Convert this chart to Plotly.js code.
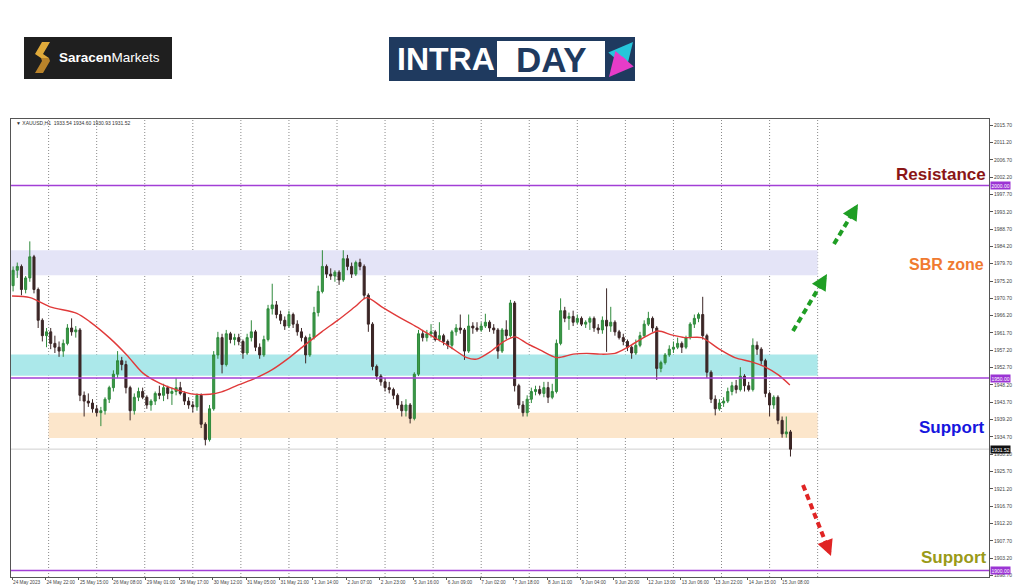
<!DOCTYPE html>
<html>
<head>
<meta charset="utf-8">
<script src="https://cdn.plot.ly/plotly-3.0.1.min.js"></script>
<style>
html,body{margin:0;padding:0;background:#fff;}
#chart{width:1024px;height:587px;}
</style>
</head>
<body>
<div id="chart"></div>
<script>
// ---------------- DATA ----------------
const symbolTitle = "\u25BC XAUUSD,H1  1933.54 1934.60 1930.93 1931.52";

// x-axis time labels (one every 16 hourly bars)
const timeLabels = ["24 May 2023","24 May 22:00","25 May 15:00","26 May 08:00","29 May 01:00","29 May 17:00",
  "30 May 12:00","31 May 05:00","31 May 21:00","1 Jun 14:00","2 Jun 07:00","2 Jun 23:00",
  "5 Jun 16:00","6 Jun 09:00","7 Jun 02:00","7 Jun 18:00","8 Jun 11:00","9 Jun 04:00",
  "9 Jun 20:00","12 Jun 13:00","13 Jun 06:00","13 Jun 22:00","14 Jun 15:00","15 Jun 08:00"];

// candles (2-hour resolution)
const open = [1974,1978,1979,1973,1976,1981.5,1973,1965,1961,1962,1959,1958,1957,1959,1963,1962,1962.5,1945.5,1944,1943.5,
1942,1941,1941.5,1944.5,1947.5,1951,1954.5,1953.5,1947.5,1941.5,1945,1946.5,1945,1943,1944,1946,1945.5,1947.5,1946,1946.5,
1947.5,1946,1944,1943,1942.5,1945.5,1938,1934,1942,1956,1960.5,1953.5,1961.5,1960,1960.5,1959.5,1956.5,1960.5,1962,1958,
1956,1960,1968,1969,1966.5,1965,1963.5,1966.5,1964,1962,1960.5,1956,1960.5,1967,1972.5,1979,1977,1976.5,1977.5,1975.5,
1981,1979,1977,1980,1979,1971.5,1964,1953,1950.5,1949,1947.5,1947,1945.5,1943,1941.5,1943,1939.5,1951,1961.5,1960.5,
1961.5,1962,1960,1961,1959.5,1958.5,1962,1963,1962.5,1957,1963.5,1963,1962.5,1963.5,1964.5,1963,1962.5,1957,1962.5,1961,
1969.5,1948,1943,1941,1944.5,1946.5,1947,1946,1947.5,1945,1946.5,1959,1967.5,1965.5,1966,1964.5,1965.5,1964,1964.5,1965.5,
1963,1962.5,1965,1963.5,1964.5,1962,1960.5,1959.5,1958,1956.5,1958.5,1961,1964,1965.5,1963,1952.5,1954,1956,1957.5,1958,
1959,1958,1960.5,1964,1965.5,1966.5,1961,1951.5,1944.5,1942,1943.5,1944,1946.5,1948,1947,1950.5,1948,1947,1958.5,1957.5,
1954.5,1946,1943,1945,1939,1935.5,1936];
const high = [1979,1980,1979.5,1976.5,1985.5,1982,1973.5,1965.5,1963,1963,1961,1959.5,1960,1964,1965.5,1963.5,1963,1946.5,1946,1944.5,
1943,1942.5,1945,1948,1952,1957,1955.5,1954.5,1948,1946,1947.5,1947.5,1945.5,1944.5,1946.5,1948,1948.5,1948,1947.5,1950,
1949,1946.5,1945,1944,1946,1946,1938.5,1943,1957,1962,1961.5,1962.5,1962,1961.5,1961.5,1960,1961.5,1965,1962.5,1959,
1961,1969,1974.5,1970,1967.5,1966,1967.5,1967,1965,1963,1961,1961.5,1968.5,1974,1983.2,1979.5,1978.5,1978,1978,1983.2,
1982,1980,1980.5,1981,1979.5,1972,1964.5,1953.5,1951,1950,1949,1947.5,1946,1944,1944.5,1943.5,1951.5,1962.5,1962.5,1962.5,
1964,1962.5,1964.5,1961.5,1960,1962.5,1964,1966.5,1963,1966.5,1964.5,1964.5,1964.5,1966.7,1965,1964,1963,1963,1965,1970.3,
1970,1948.5,1944,1945.5,1947.5,1948,1948,1949,1949,1948.5,1960,1970.7,1968.5,1967,1967.5,1966.5,1966,1965,1966,1966,
1964,1966,1973.3,1968.5,1965,1962.5,1961.5,1960,1958.5,1960,1962,1965,1967.2,1966,1963.5,1954.5,1956.5,1958.5,1959.5,1960.5,
1959.5,1961,1964.5,1966.5,1967,1971.1,1961.5,1952,1945.5,1944.5,1945,1947.5,1949,1949.5,1952.8,1951,1949,1960.3,1959.5,1958,
1955,1946.5,1945.5,1945.5,1940,1940,1936.5];
const low = [1972.5,1976,1971.5,1972,1975,1972,1963,1959.5,1958,1957.5,1956.5,1955.5,1955.5,1958.5,1961,1960.5,1944,1940,1942.5,1941,
1940,1937.5,1940.5,1943.5,1946.5,1950,1952,1946,1939,1940.5,1944,1944.5,1942,1941.5,1943,1944.5,1944,1944.5,1943,1945.5,
1945.5,1943,1942,1941,1941.5,1937,1932.5,1933.5,1941.5,1955,1951.2,1953,1959,1958.5,1958.5,1955,1956,1959.5,1957,1955,
1955.5,1959.5,1966.5,1965.5,1964,1962.5,1963,1963,1961,1959.5,1953.8,1955.5,1960,1966,1972,1976,1975.5,1975,1974.2,1975,
1978,1976,1976.5,1978,1970.5,1962,1952,1949.5,1948,1946.5,1946,1944.5,1942,1940,1940,1938.2,1939,1950.5,1959.5,1959.5,
1960.5,1959.5,1959.5,1958.5,1957.5,1957.5,1961,1961.5,1954.7,1956.5,1961.5,1962,1962,1963,1962,1961.5,1955,1956.5,1960,1960.5,
1946.5,1942,1940,1940,1943.5,1945.5,1945.5,1945,1943.5,1944.5,1946,1958.5,1964.5,1962.5,1963.5,1964,1963.5,1963,1962.5,1962,
1961.5,1961.5,1956.8,1962,1961,1960,1958.5,1957,1955,1956,1958,1960.5,1963.5,1962,1949.5,1951.5,1953.5,1955.5,1956.5,1957.5,
1956.5,1957.5,1960,1963,1964.5,1960,1950,1943.5,1940.3,1941.5,1942.5,1943.5,1945.5,1946,1946.5,1946.5,1946.5,1946.5,1956,1953.5,
1945,1940,1942,1938,1934.5,1934.5,1929.6];
const close = [1978,1979,1973,1976,1981.5,1973,1965,1961,1962,1959,1958,1957,1959,1963,1962,1962.5,1945.5,1944,1943.5,1942,
1941,1941.5,1944.5,1947.5,1951,1954.5,1953.5,1947.5,1941.5,1945,1946.5,1945,1943,1944,1946,1945.5,1947.5,1946,1946.5,1947.5,
1946,1944,1943,1942.5,1945.5,1938,1934,1942,1956,1960.5,1953.5,1961.5,1960,1960.5,1959.5,1956.5,1960.5,1962,1958,1956,
1960,1968,1969,1966.5,1965,1963.5,1966.5,1964,1962,1960.5,1956,1960.5,1967,1972.5,1979,1977,1976.5,1977.5,1975.5,1981,
1979,1977,1980,1979,1971.5,1964,1953,1950.5,1949,1947.5,1947,1945.5,1943,1941.5,1943,1939.5,1951,1961.5,1960.5,1961.5,
1962,1960,1961,1959.5,1958.5,1962,1963,1962.5,1957,1963.5,1963,1962.5,1963.5,1964.5,1963,1962.5,1957,1962.5,1961,1969.5,
1948,1943,1941,1944.5,1946.5,1947,1946,1947.5,1945,1946.5,1959,1967.5,1965.5,1966,1964.5,1965.5,1964,1964.5,1965.5,1963,
1962.5,1965,1963.5,1964.5,1962,1960.5,1959.5,1958,1956.5,1958.5,1961,1964,1965.5,1963,1952.5,1954,1956,1957.5,1958,1959,
1958,1960.5,1964,1965.5,1966.5,1961,1951.5,1944.5,1942,1943.5,1944,1946.5,1948,1947,1950.5,1948,1947,1958.5,1957.5,1954.5,
1946,1943,1945,1939,1935.5,1936,1931.52];

// moving average (hourly bar index, price)
const maBar = [0,8.6,18.2,31,37.3,46.9,54.9,62.8,70.8,78.8,86.6,94.7,100.3,108.3,116.3,124.3,132.2,140.2,148.2,156.1,164.1,169.7,
176.9,185.6,193.6,201.6,209.6,217.6,222.3,228.7,235.1,240.7,246.3,252.6,260.6,268.6,275,281.3,288.5,294.9,302.9,309.2,315.6,
322,330,337.9,345.9,353.9,360.3,366.7,372.2];
const maVal = [1971.3,1970.9,1968.5,1966.8,1964.6,1960.3,1956,1951.2,1948.6,1946.9,1945.8,1945.8,1946.4,1948.2,1949.9,1952.1,1955.1,
1958.6,1962,1965.1,1968.5,1970.9,1968.5,1965.7,1963.3,1960.7,1958.1,1955.3,1954.9,1956.8,1959.4,1960.7,1959,1957.3,1955.3,1956.2,
1956.4,1956.2,1956.4,1958.1,1960.7,1962.2,1961.2,1960.5,1960.5,1957.7,1955.3,1954.2,1952.9,1950.8,1948.2];

// horizontal levels and zones
const levelResistance = 2000.00;
const levelMid = 1950.00;
const levelSupport = 1900.00;
const lastPrice = 1931.52;
const zoneSBR = [1976.7, 1983.2];
const zoneCyan = [1950.6, 1956.1];
const zoneOrange = [1934.4, 1941.0];

// text labels
const labelResistance = "Resistance";
const labelSBR = "SBR zone";
const labelSupport1 = "Support";
const labelSupport2 = "Support";

// ---------------- GEOMETRY HELPERS ----------------
const W = 1024, H = 587;
const PL = 11, PR = 989, PT = 119, PB = 577;
const px = x => (x - PL) / (PR - PL);
const py = y => (PB - y) / (PB - PT);
const path = pts => pts.map((p, i) => (i ? 'L' : 'M') + px(p[0]).toFixed(5) + ',' + py(p[1]).toFixed(5)).join(' ') + ' Z';

// candle x positions: each 2h candle covers two hourly slots
const xs = open.map((_, k) => 2 * k + 0.5);
const tickvals = timeLabels.map((_, j) => 16 * j);
const xMin = -0.5, xMax = 467.5;
const dayStart = 17.5, daySpan = 23, nDays = 17;
const zoneRight = dayStart + daySpan * (nDays - 1);

// ---------------- TRACES ----------------
const candles = {
  type: 'candlestick', x: xs, open: open, high: high, low: low, close: close,
  increasing: {line: {color: '#2f8a3c', width: 1}, fillcolor: '#3c9a48'},
  decreasing: {line: {color: '#3b2626', width: 1}, fillcolor: '#3b2626'},
  whiskerwidth: 0, hoverinfo: 'skip', showlegend: false
};
const ma = {
  type: 'scatter', mode: 'lines', x: maBar, y: maVal,
  line: {color: '#e03a3a', width: 1.4, shape: 'spline', smoothing: 0.8},
  hoverinfo: 'skip', showlegend: false
};

// ---------------- SHAPES ----------------
const shapes = [];
shapes.push({type:'rect', xref:'x', yref:'y', x0:xMin, x1:zoneRight, y0:zoneSBR[0], y1:zoneSBR[1], fillcolor:'#e4e4f7', line:{width:0}, layer:'below'});
shapes.push({type:'rect', xref:'x', yref:'y', x0:xMin, x1:zoneRight, y0:zoneCyan[0], y1:zoneCyan[1], fillcolor:'#abe8ea', line:{width:0}, layer:'below'});
shapes.push({type:'rect', xref:'x', yref:'y', x0:dayStart, x1:zoneRight, y0:zoneOrange[0], y1:zoneOrange[1], fillcolor:'#fce6cb', line:{width:0}, layer:'below'});
for (let m = 0; m < nDays; m++) {
  const xv = dayStart + daySpan * m;
  shapes.push({type:'line', xref:'x', yref:'paper', x0:xv, x1:xv, y0:0, y1:1, line:{color:'#8a8a8a', width:1, dash:'1px,2px'}, layer:'below'});
}
shapes.push({type:'line', xref:'paper', yref:'y', x0:0, x1:1, y0:lastPrice, y1:lastPrice, line:{color:'#cfcfcf', width:1}, layer:'below'});
[levelResistance, levelMid, levelSupport].forEach(v => {
  shapes.push({type:'line', xref:'paper', yref:'y', x0:0, x1:1, y0:v, y1:v, line:{color:'#a23fd6', width:1.5}, layer:'above'});
});
const arrows = [
  {from:[793,331], to:[827,274], color:'#1f9e24'},
  {from:[834,244], to:[858,204], color:'#1f9e24'},
  {from:[803,485], to:[831,556], color:'#e02424'}
];
arrows.forEach(a => {
  const dx = a.to[0]-a.from[0], dy = a.to[1]-a.from[1], L = Math.hypot(dx,dy);
  const ex = a.to[0] - dx/L*8, ey = a.to[1] - dy/L*8;
  shapes.push({type:'line', xref:'paper', yref:'paper', x0:px(a.from[0]), y0:py(a.from[1]), x1:px(ex), y1:py(ey),
    line:{color:a.color, width:4, dash:'6px,4px'}});
});
// logos
shapes.push({type:'rect', xref:'paper', yref:'paper', x0:px(24), x1:px(172), y0:py(37), y1:py(79), fillcolor:'#1f1f1f', line:{width:0}});
shapes.push({type:'path', xref:'paper', yref:'paper', path:path([[42,42],[50,42],[43,54],[49,58],[41,58],[35,54]]), fillcolor:'#e0aa3a', line:{width:0}});
shapes.push({type:'path', xref:'paper', yref:'paper', path:path([[41,58],[49,58],[50,61],[43,73],[35,73],[42,61]]), fillcolor:'#b9832a', line:{width:0}});
shapes.push({type:'rect', xref:'paper', yref:'paper', x0:px(389), x1:px(635), y0:py(37), y1:py(81), fillcolor:'#1f3a5f', line:{width:0}});
shapes.push({type:'rect', xref:'paper', yref:'paper', x0:px(497), x1:px(605), y0:py(41), y1:py(77), fillcolor:'#ffffff', line:{width:0}});

// ---------------- ANNOTATIONS ----------------
const ann = [];
ann.push({xref:'paper', yref:'paper', x:px(14), y:py(123), xanchor:'left', yanchor:'middle', text:symbolTitle, showarrow:false,
  font:{family:'Liberation Sans', size:5, color:'#333'}});
function priceTag(v, bg) {
  ann.push({xref:'paper', yref:'y', x:1, y:v, xanchor:'left', yanchor:'middle', xshift:1, text:v.toFixed(2), showarrow:false,
    bgcolor:bg, borderpad:0.5, font:{family:'Liberation Sans', size:5, color:'#ffffff'}});
}
priceTag(levelResistance, '#9b35d4');
priceTag(levelMid, '#9b35d4');
priceTag(levelSupport, '#9b35d4');
priceTag(lastPrice, '#111111');
function bigLabel(t, xr, yc, color, size) {
  ann.push({xref:'paper', yref:'paper', x:px(xr), y:py(yc), xanchor:'right', yanchor:'middle', text:'<b>'+t+'</b>', showarrow:false,
    font:{family:'Liberation Sans', size:size, color:color}});
}
bigLabel(labelResistance, 988, 174, '#8a1616', 17);
bigLabel(labelSBR, 986, 264, '#f07a30', 16);
bigLabel(labelSupport1, 986, 427, '#1616de', 17);
bigLabel(labelSupport2, 988, 557, '#9a9a18', 17);
arrows.forEach(a => {
  const dx = a.to[0]-a.from[0], dy = a.to[1]-a.from[1], L = Math.hypot(dx,dy);
  ann.push({xref:'paper', yref:'paper', x:px(a.to[0]), y:py(a.to[1]), ax:-dx/L*10, ay:-dy/L*10, text:'', showarrow:true,
    arrowhead:2, arrowsize:0.8, arrowwidth:4, arrowcolor:a.color, standoff:0});
});
// logo texts
ann.push({xref:'paper', yref:'paper', x:px(57), y:py(58), xanchor:'left', yanchor:'middle', showarrow:false,
  text:'<b>Saracen</b>Markets', font:{family:'Liberation Sans', size:13.5, color:'#ffffff'}});
ann.push({xref:'paper', yref:'paper', x:px(395), y:py(59.5), xanchor:'left', yanchor:'middle', showarrow:false,
  text:'<b>INTRA</b>', font:{family:'Liberation Sans', size:32, color:'#ffffff'}});
ann.push({xref:'paper', yref:'paper', x:px(551), y:py(59.5), xanchor:'center', yanchor:'middle', showarrow:false,
  text:'<b>DAY</b>', font:{family:'Liberation Sans', size:35, color:'#1f3a5f'}});
ann.push({xref:'paper', yref:'paper', x:px(633), y:py(42), ax:-17, ay:20, text:'', showarrow:true,
  arrowhead:2, arrowsize:0.8, arrowwidth:6, arrowcolor:'#26c6da', standoff:0});
ann.push({xref:'paper', yref:'paper', x:px(609), y:py(77), ax:17, ay:-20, text:'', showarrow:true,
  arrowhead:2, arrowsize:0.8, arrowwidth:6, arrowcolor:'#e63cc8', standoff:0});

// ---------------- LAYOUT ----------------
const layout = {
  width: W, height: H,
  margin: {l: PL, r: W - PR, t: PT, b: H - PB, autoexpand: false},
  paper_bgcolor: '#ffffff', plot_bgcolor: '#ffffff',
  showlegend: false, hovermode: false,
  font: {family: 'Liberation Sans'},
  xaxis: {
    range: [xMin, xMax], tickmode: 'array', tickvals: tickvals, ticktext: timeLabels, tickangle: 0,
    ticks: 'outside', ticklen: 2, tickcolor: '#555', ticklabelposition: 'outside right',
    tickfont: {family: 'Liberation Sans', size: 4.7, color: '#444'},
    showgrid: false, zeroline: false, showline: true, linecolor: '#555', linewidth: 1, mirror: true,
    rangeslider: {visible: false}, fixedrange: true, automargin: false
  },
  yaxis: {
    side: 'right', range: [1898.3, 2017.3], tickmode: 'linear', tick0: 1898.7, dtick: 4.5, tickformat: '.2f',
    ticks: 'outside', ticklen: 3, tickcolor: '#555',
    tickfont: {family: 'Liberation Sans', size: 5, color: '#444'},
    showgrid: false, zeroline: false, showline: true, linecolor: '#555', linewidth: 1, mirror: true,
    fixedrange: true, automargin: false
  },
  shapes: shapes,
  annotations: ann
};

Plotly.newPlot('chart', [candles, ma], layout, {staticPlot: true, displayModeBar: false});
</script>
</body>
</html>
